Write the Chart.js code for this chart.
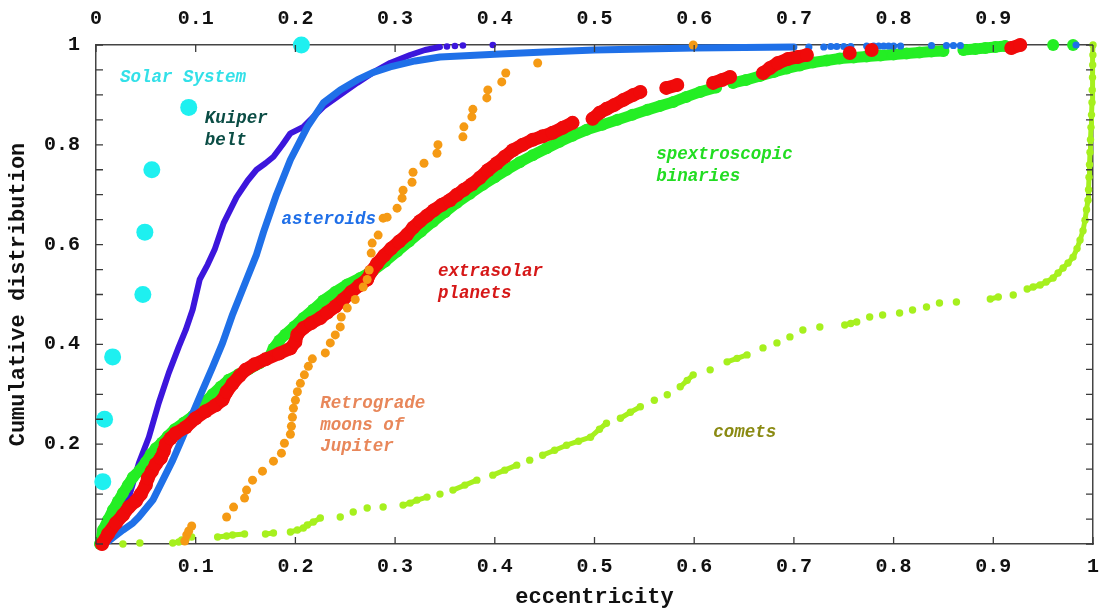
<!DOCTYPE html>
<html>
<head>
<meta charset="utf-8">
<title>Eccentricity distributions</title>
<script src="https://cdn.jsdelivr.net/npm/chart.js@4.4.1/dist/chart.umd.min.js"></script>
<style>
  html, body { margin: 0; padding: 0; background: #ffffff; }
  #wrap { width: 1105px; height: 608px; }
</style>
</head>
<body>
<div id="wrap"><canvas id="chart" width="1105" height="608"></canvas></div>
<script>
// Cumulative eccentricity distributions of several orbital populations.

// Solar System planets
const solarEcc = [0.0068, 0.0086, 0.0167, 0.047, 0.049, 0.056, 0.093, 0.206];
const solarCdf = [0.125, 0.25, 0.375, 0.5, 0.625, 0.75, 0.875, 1.0];

// Kuiper belt objects (dense trace + sparse high-eccentricity tail)
const kuiperEcc = [0.004, 0.012, 0.022, 0.033, 0.043, 0.053, 0.063, 0.073, 0.083, 0.09, 0.097, 0.104, 0.112, 0.119, 0.128, 0.141, 0.152, 0.161, 0.17, 0.178, 0.187, 0.195, 0.208, 0.218, 0.228, 0.245, 0.262, 0.278, 0.295, 0.315, 0.33, 0.345];
const kuiperCdf = [0, 0.02, 0.05, 0.094, 0.162, 0.214, 0.283, 0.343, 0.395, 0.429, 0.47, 0.53, 0.56, 0.59, 0.643, 0.695, 0.728, 0.75, 0.763, 0.776, 0.8, 0.823, 0.836, 0.856, 0.876, 0.9, 0.924, 0.945, 0.964, 0.98, 0.99, 0.996];
const kuiperTailEcc = [0.352, 0.36, 0.368, 0.398];
const kuiperTailCdf = [0.997, 0.998, 0.999, 1.0];

// Asteroids
const asteroidEcc = [0.008, 0.014, 0.027, 0.037, 0.043, 0.057, 0.067, 0.077, 0.087, 0.097, 0.107, 0.117, 0.127, 0.137, 0.144, 0.151, 0.161, 0.168, 0.181, 0.195, 0.212, 0.228, 0.245, 0.262, 0.278, 0.295, 0.32, 0.345, 0.375, 0.405, 0.45, 0.5, 0.55, 0.6, 0.65, 0.7];
const asteroidCdf = [0, 0.008, 0.028, 0.042, 0.054, 0.088, 0.128, 0.168, 0.214, 0.262, 0.309, 0.355, 0.403, 0.46, 0.495, 0.53, 0.58, 0.625, 0.7, 0.77, 0.836, 0.884, 0.91, 0.93, 0.945, 0.956, 0.968, 0.976, 0.979, 0.982, 0.986, 0.99, 0.992, 0.994, 0.995, 0.996];
const asteroidTailEcc = [0.715, 0.73, 0.737, 0.743, 0.75, 0.757, 0.773, 0.78, 0.785, 0.79, 0.795, 0.8, 0.807, 0.838, 0.853, 0.86, 0.867, 0.92, 0.93, 0.983];
const asteroidTailCdf = [0.996, 0.996, 0.997, 0.997, 0.997, 0.997, 0.998, 0.998, 0.998, 0.998, 0.998, 0.998, 0.998, 0.999, 0.999, 0.999, 0.999, 0.999, 0.999, 1.0];

// Retrograde moons of Jupiter
const moonEcc = [0.089, 0.091, 0.093, 0.096, 0.131, 0.138, 0.149, 0.151, 0.157, 0.167, 0.178, 0.186, 0.189, 0.195, 0.196, 0.197, 0.198, 0.2, 0.202, 0.205, 0.209, 0.213, 0.217, 0.23, 0.235, 0.24, 0.245, 0.246, 0.252, 0.26, 0.268, 0.272, 0.274, 0.276, 0.277, 0.283, 0.288, 0.292, 0.302, 0.307, 0.308, 0.317, 0.318, 0.329, 0.342, 0.343, 0.368, 0.369, 0.377, 0.378, 0.392, 0.393, 0.407, 0.411, 0.443, 0.599];
const moonCdf = [0.006, 0.018, 0.026, 0.036, 0.054, 0.074, 0.092, 0.108, 0.128, 0.146, 0.166, 0.182, 0.202, 0.22, 0.236, 0.254, 0.272, 0.288, 0.305, 0.322, 0.339, 0.356, 0.371, 0.383, 0.403, 0.419, 0.435, 0.455, 0.473, 0.49, 0.515, 0.53, 0.549, 0.583, 0.603, 0.619, 0.653, 0.655, 0.673, 0.693, 0.709, 0.725, 0.745, 0.763, 0.783, 0.8, 0.816, 0.836, 0.856, 0.871, 0.894, 0.91, 0.926, 0.944, 0.964, 1.0];

// Extrasolar planets
const planetEcc = [0.006, 0.012, 0.02, 0.027, 0.033, 0.04, 0.045, 0.05, 0.052, 0.056, 0.06, 0.065, 0.068, 0.07, 0.075, 0.08, 0.09, 0.1, 0.11, 0.12, 0.127, 0.131, 0.137, 0.144, 0.15, 0.159, 0.17, 0.184, 0.195, 0.2, 0.202, 0.208, 0.216, 0.225, 0.232, 0.24, 0.248, 0.256, 0.264, 0.272, 0.276, 0.282, 0.289, 0.296, 0.304, 0.312, 0.318, 0.325, 0.332, 0.339, 0.347, 0.355, 0.362, 0.369, 0.377, 0.385, 0.393, 0.402, 0.41, 0.418, 0.428, 0.438, 0.448, 0.458, 0.468, 0.478, 0.498, 0.505, 0.512, 0.52, 0.529, 0.539, 0.546, 0.572, 0.583, 0.619, 0.628, 0.636, 0.669, 0.676, 0.684, 0.694, 0.704, 0.713, 0.756, 0.778, 0.918, 0.927];
const planetCdf = [0, 0.02, 0.042, 0.058, 0.074, 0.086, 0.1, 0.118, 0.132, 0.146, 0.16, 0.172, 0.186, 0.2, 0.212, 0.222, 0.234, 0.252, 0.266, 0.278, 0.289, 0.305, 0.321, 0.337, 0.349, 0.36, 0.37, 0.382, 0.392, 0.405, 0.42, 0.433, 0.443, 0.453, 0.464, 0.476, 0.49, 0.505, 0.518, 0.53, 0.546, 0.562, 0.578, 0.592, 0.606, 0.62, 0.634, 0.647, 0.658, 0.669, 0.68, 0.689, 0.7, 0.71, 0.721, 0.734, 0.749, 0.763, 0.776, 0.789, 0.8, 0.81, 0.817, 0.824, 0.834, 0.844, 0.852, 0.864, 0.872, 0.88, 0.89, 0.9, 0.906, 0.914, 0.92, 0.924, 0.93, 0.936, 0.944, 0.954, 0.964, 0.972, 0.976, 0.98, 0.984, 0.99, 0.994, 1.0];

// Spectroscopic binaries
const binaryEcc = [0.004, 0.007, 0.012, 0.017, 0.022, 0.027, 0.032, 0.037, 0.044, 0.05, 0.055, 0.06, 0.066, 0.072, 0.079, 0.088, 0.097, 0.103, 0.109, 0.117, 0.125, 0.133, 0.143, 0.153, 0.164, 0.174, 0.178, 0.184, 0.19, 0.199, 0.208, 0.218, 0.228, 0.24, 0.252, 0.265, 0.278, 0.29, 0.302, 0.314, 0.326, 0.338, 0.35, 0.362, 0.375, 0.388, 0.4, 0.412, 0.425, 0.438, 0.452, 0.465, 0.478, 0.492, 0.508, 0.523, 0.538, 0.553, 0.566, 0.579, 0.592, 0.606, 0.622, 0.639, 0.652, 0.666, 0.68, 0.693, 0.706, 0.719, 0.733, 0.746, 0.76, 0.773, 0.787, 0.8, 0.813, 0.826, 0.838, 0.85, 0.87, 0.882, 0.892, 0.902, 0.912, 0.96, 0.98];
const binaryCdf = [0, 0.028, 0.048, 0.068, 0.085, 0.102, 0.118, 0.134, 0.148, 0.164, 0.18, 0.192, 0.203, 0.216, 0.23, 0.243, 0.256, 0.27, 0.284, 0.3, 0.315, 0.329, 0.34, 0.35, 0.362, 0.376, 0.392, 0.408, 0.42, 0.436, 0.453, 0.47, 0.488, 0.505, 0.52, 0.533, 0.548, 0.566, 0.586, 0.606, 0.626, 0.646, 0.665, 0.684, 0.702, 0.72, 0.735, 0.75, 0.765, 0.779, 0.793, 0.806, 0.818, 0.83, 0.84, 0.85, 0.86, 0.87, 0.878, 0.886, 0.896, 0.906, 0.915, 0.924, 0.93, 0.938, 0.946, 0.953, 0.959, 0.965, 0.969, 0.973, 0.975, 0.977, 0.979, 0.981, 0.983, 0.985, 0.987, 0.988, 0.99, 0.992, 0.994, 0.996, 0.998, 1.0, 1.0];

// Comets
const cometEcc = [0.027, 0.044, 0.077, 0.083, 0.086, 0.091, 0.096, 0.122, 0.131, 0.137, 0.149, 0.17, 0.178, 0.195, 0.202, 0.208, 0.212, 0.218, 0.225, 0.245, 0.258, 0.272, 0.288, 0.308, 0.315, 0.322, 0.332, 0.345, 0.358, 0.37, 0.382, 0.398, 0.41, 0.422, 0.435, 0.448, 0.46, 0.472, 0.484, 0.496, 0.505, 0.512, 0.526, 0.536, 0.546, 0.56, 0.573, 0.586, 0.593, 0.599, 0.616, 0.633, 0.643, 0.653, 0.669, 0.683, 0.696, 0.709, 0.726, 0.751, 0.757, 0.763, 0.776, 0.789, 0.806, 0.819, 0.833, 0.846, 0.863, 0.897, 0.905, 0.92, 0.934, 0.94, 0.947, 0.953, 0.96, 0.965, 0.97, 0.975, 0.98, 0.984, 0.987, 0.99, 0.992, 0.9935, 0.995, 0.9955, 0.996, 0.9965, 0.997, 0.9975, 0.998, 0.9985, 0.999, 0.9992, 0.9995, 0.9997, 0.9999, 1.0];
const cometCdf = [0, 0.002, 0.002, 0.004, 0.008, 0.012, 0.014, 0.014, 0.016, 0.018, 0.02, 0.02, 0.022, 0.024, 0.028, 0.032, 0.038, 0.044, 0.052, 0.054, 0.064, 0.072, 0.074, 0.078, 0.082, 0.088, 0.094, 0.1, 0.108, 0.118, 0.128, 0.138, 0.148, 0.158, 0.168, 0.178, 0.188, 0.198, 0.206, 0.214, 0.23, 0.242, 0.252, 0.264, 0.275, 0.288, 0.299, 0.315, 0.328, 0.339, 0.349, 0.365, 0.372, 0.379, 0.393, 0.403, 0.415, 0.429, 0.435, 0.439, 0.442, 0.445, 0.455, 0.459, 0.463, 0.469, 0.475, 0.483, 0.485, 0.491, 0.495, 0.499, 0.511, 0.515, 0.519, 0.525, 0.533, 0.543, 0.553, 0.563, 0.575, 0.592, 0.609, 0.628, 0.649, 0.67, 0.689, 0.71, 0.735, 0.76, 0.785, 0.81, 0.835, 0.86, 0.885, 0.91, 0.935, 0.96, 0.98, 1.0];

// Axis text
const xTitle = 'eccentricity';
const yTitle = 'Cumulative distribution';

// Curve labels: text lines, anchor (eccentricity, cumulative fraction), colour
const curveLabels = [
  { lines: ['Solar System'], x: 0.024, y: 0.934, color: '#33e0e8' },
  { lines: ['Kuiper', 'belt'], x: 0.109, y: 0.852, color: '#0b4d45' },
  { lines: ['asteroids'], x: 0.186, y: 0.651, color: '#1f6fe8' },
  { lines: ['extrasolar', 'planets'], x: 0.343, y: 0.545, color: '#d61818' },
  { lines: ['spextroscopic', 'binaries'], x: 0.562, y: 0.780, color: '#22dd22' },
  { lines: ['Retrograde', 'moons of', 'Jupiter'], x: 0.225, y: 0.281, color: '#e8875a' },
  { lines: ['comets'], x: 0.619, y: 0.224, color: '#8a8a12' }
];

const MONO = '"Liberation Mono", "DejaVu Sans Mono", monospace';

function toPoints(xs, ys) {
  return xs.map((x, i) => ({ x: x, y: ys[i] }));
}

// Connect neighbouring markers only where they sit close together,
// so the dense parts read as a continuous band and the sparse tails stay as dots.
function joinClose(limit) {
  return {
    borderColor: ctx => (Math.hypot(ctx.p1.x - ctx.p0.x, ctx.p1.y - ctx.p0.y) > limit ? 'rgba(0,0,0,0)' : undefined)
  };
}

function fmtTick(v) {
  return String(Math.round(v * 100) / 100);
}

// Keep the plot frame fixed: no extra room reserved for edge labels.
function noEdgePadding(s) {
  s.paddingLeft = 0; s.paddingRight = 0; s.paddingTop = 0; s.paddingBottom = 0;
}

const inwardTicks = {
  id: 'inwardTicks',
  afterDatasetsDraw(chart) {
    const { ctx, chartArea: a } = chart;
    const len = 7;
    ctx.save();
    ctx.strokeStyle = '#3a3a3a';
    ctx.lineWidth = 1.3;
    ctx.beginPath();
    chart.scales.x.ticks.forEach(t => {
      const p = chart.scales.x.getPixelForValue(t.value);
      ctx.moveTo(p, a.bottom); ctx.lineTo(p, a.bottom - len);
    });
    chart.scales.xTop.ticks.forEach(t => {
      const p = chart.scales.xTop.getPixelForValue(t.value);
      ctx.moveTo(p, a.top); ctx.lineTo(p, a.top + len);
    });
    chart.scales.y.ticks.forEach(t => {
      const p = chart.scales.y.getPixelForValue(t.value);
      ctx.moveTo(a.left, p); ctx.lineTo(a.left + len, p);
    });
    chart.scales.yRight.ticks.forEach(t => {
      const p = chart.scales.yRight.getPixelForValue(t.value);
      ctx.moveTo(a.right, p); ctx.lineTo(a.right - len, p);
    });
    ctx.stroke();
    ctx.restore();
  }
};

const curveText = {
  id: 'curveText',
  afterDatasetsDraw(chart) {
    const { ctx } = chart;
    const xs = chart.scales.x, ys = chart.scales.y;
    ctx.save();
    ctx.font = 'italic bold 17.5px ' + MONO;
    ctx.textAlign = 'left';
    ctx.textBaseline = 'middle';
    curveLabels.forEach(lab => {
      ctx.fillStyle = lab.color;
      const px = xs.getPixelForValue(lab.x);
      const py = ys.getPixelForValue(lab.y);
      lab.lines.forEach((line, i) => ctx.fillText(line, px, py + i * 21.5));
    });
    ctx.restore();
  }
};

const axisBorder = { color: '#444444', width: 1.5 };
const tickFont = { family: MONO, size: 20, weight: 'bold' };
const titleFont = { family: MONO, size: 22, weight: 'bold', lineHeight: 1 };

new Chart(document.getElementById('chart'), {
  type: 'scatter',
  data: {
    datasets: [
      {
        label: 'Solar System', data: toPoints(solarEcc, solarCdf), order: 0,
        showLine: false, pointRadius: 8.5, pointBackgroundColor: '#1ef0f0', pointBorderWidth: 0
      },
      {
        label: 'Retrograde moons of Jupiter', data: toPoints(moonEcc, moonCdf), order: 1,
        showLine: false, pointRadius: 4.5, pointBackgroundColor: '#f59a14', pointBorderWidth: 0
      },
      {
        label: 'extrasolar planets', data: toPoints(planetEcc, planetCdf), order: 2,
        showLine: true, borderColor: '#f00a0a', borderWidth: 13, tension: 0,
        borderJoinStyle: 'round', borderCapStyle: 'round', segment: joinClose(17),
        pointRadius: 7, pointBackgroundColor: '#f00a0a', pointBorderWidth: 0
      },
      {
        label: 'asteroids', data: toPoints(asteroidEcc, asteroidCdf), order: 3,
        showLine: true, borderColor: '#1f70e8', borderWidth: 7, tension: 0,
        borderJoinStyle: 'round', borderCapStyle: 'round', pointRadius: 0
      },
      {
        label: 'asteroids tail', data: toPoints(asteroidTailEcc, asteroidTailCdf), order: 3,
        showLine: false, pointRadius: 3.6, pointBackgroundColor: '#1f70e8', pointBorderWidth: 0
      },
      {
        label: 'spectroscopic binaries', data: toPoints(binaryEcc, binaryCdf), order: 4,
        showLine: true, borderColor: '#24ee24', borderWidth: 11, tension: 0,
        borderJoinStyle: 'round', borderCapStyle: 'round', segment: joinClose(17),
        pointRadius: 6, pointBackgroundColor: '#24ee24', pointBorderWidth: 0
      },
      {
        label: 'Kuiper belt', data: toPoints(kuiperEcc, kuiperCdf), order: 5,
        showLine: true, borderColor: '#3c16dc', borderWidth: 6, tension: 0,
        borderJoinStyle: 'round', borderCapStyle: 'round', pointRadius: 0
      },
      {
        label: 'Kuiper belt tail', data: toPoints(kuiperTailEcc, kuiperTailCdf), order: 5,
        showLine: false, pointRadius: 3.3, pointBackgroundColor: '#3c16dc', pointBorderWidth: 0
      },
      {
        label: 'comets', data: toPoints(cometEcc, cometCdf), order: 6,
        showLine: true, borderColor: '#a6f01e', borderWidth: 5, tension: 0,
        borderJoinStyle: 'round', borderCapStyle: 'round', segment: joinClose(13),
        pointRadius: 3.7, pointBackgroundColor: '#a6f01e', pointBorderWidth: 0
      }
    ]
  },
  options: {
    responsive: false,
    animation: false,
    devicePixelRatio: 1,
    layout: { padding: 0 },
    plugins: { legend: { display: false }, tooltip: { enabled: false } },
    datasets: { scatter: { clip: false } },
    scales: {
      x: {
        type: 'linear', position: 'bottom', min: 0, max: 1,
        afterFit(s) { s.height = 64; noEdgePadding(s); },
        grid: { display: false, drawTicks: false },
        border: axisBorder,
        ticks: {
          stepSize: 0.1, autoSkip: false, maxRotation: 0, padding: 11,
          color: '#111111', font: tickFont,
          callback: v => (Math.round(v * 100) === 0 ? '' : fmtTick(v))
        },
        title: { display: true, text: xTitle, color: '#111111', font: titleFont, padding: { top: 0, bottom: 0 } }
      },
      xTop: {
        type: 'linear', position: 'top', min: 0, max: 1,
        afterFit(s) { s.height = 45; noEdgePadding(s); },
        grid: { display: false, drawTicks: false },
        border: axisBorder,
        ticks: {
          stepSize: 0.1, autoSkip: false, maxRotation: 0, padding: 14,
          color: '#111111', font: tickFont,
          callback: v => (Math.round(v * 100) === 100 ? '' : fmtTick(v))
        }
      },
      y: {
        type: 'linear', position: 'left', min: 0, max: 1,
        afterFit(s) { s.width = 96; noEdgePadding(s); },
        grid: { display: false, drawTicks: false },
        border: axisBorder,
        ticks: {
          stepSize: 0.05, autoSkip: false, padding: 16,
          color: '#111111', font: tickFont,
          callback: v => {
            const k = Math.round(v * 100);
            return (k > 0 && k % 20 === 0) ? fmtTick(v) : '';
          }
        },
        title: { display: true, text: yTitle, color: '#111111', font: titleFont, padding: { top: 7, bottom: 0 } }
      },
      yRight: {
        type: 'linear', position: 'right', min: 0, max: 1,
        afterFit(s) { s.width = 12; noEdgePadding(s); },
        grid: { display: false, drawTicks: false },
        border: axisBorder,
        ticks: { stepSize: 0.05, autoSkip: false, display: false }
      }
    }
  },
  plugins: [inwardTicks, curveText]
});
</script>
</body>
</html>
